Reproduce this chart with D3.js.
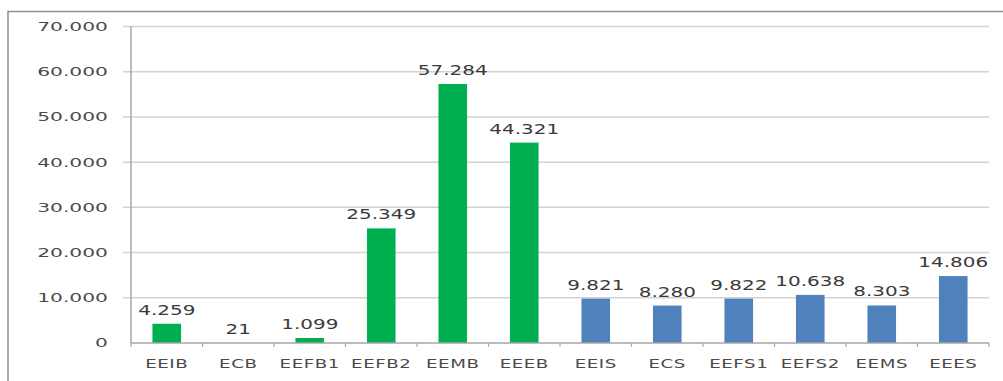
<!DOCTYPE html>
<html>
<head>
<meta charset="utf-8">
<script src="https://cdn.jsdelivr.net/npm/d3@7"></script>
<style>
  body { margin: 0; background: #fff; }
  text { font-family: "DejaVu Sans", Verdana, sans-serif; fill: #4a4a4a; }
</style>
</head>
<body>
<svg id="chart" width="1003" height="381"></svg>
<script>
var categories = ['EEIB', 'ECB', 'EEFB1', 'EEFB2', 'EEMB', 'EEEB',
                  'EEIS', 'ECS', 'EEFS1', 'EEFS2', 'EEMS', 'EEES']
var values = [4259, 21, 1099, 25349, 57284, 44321,
              9821, 8280, 9822, 10638, 8303, 14806]
var groups = ['B', 'B', 'B', 'B', 'B', 'B', 'S', 'S', 'S', 'S', 'S', 'S']
var yTicks = [0, 10000, 20000, 30000, 40000, 50000, 60000, 70000]
var colours = { B: '#00B050', S: '#4F81BD' }

var plotL = 131, plotR = 989, plotT = 26.5, plotB = 343

var fmt = d3.formatLocale({ decimal: ',', thousands: '.', grouping: [3], currency: ['', ''] }).format(',d')

var x = d3.scaleBand()
  .domain(categories)
  .range([plotL, plotR])
  .paddingInner(0.6)
  .paddingOuter(0.3)
var y = d3.scaleLinear()
  .domain([0, 70000])
  .range([plotB, plotT])

var svg = d3.select('#chart')

// outer frame, runs off the right and bottom of the picture
svg.append('rect')
  .attr('x', 8).attr('y', 11.5)
  .attr('width', 1100).attr('height', 500)
  .attr('fill', 'none')
  .attr('stroke', '#8f8f8f')
  .attr('stroke-width', 1.5)

// gridlines with little outward ticks
svg.append('g').selectAll('line')
  .data(yTicks.filter(d => d > 0))
  .join('line')
  .attr('x1', plotL - 8).attr('x2', plotR)
  .attr('y1', d => y(d)).attr('y2', d => y(d))
  .attr('stroke', '#d2d2d2')
  .attr('stroke-width', 1.5)

// the text in the picture is stretched wide and flat
function stretched(sx, sy) {
  return function (sel) {
    sel.attr('transform', function () {
      var t = d3.select(this)
      return 'translate(' + t.attr('data-x') + ',' + t.attr('data-y') + ') scale(' + sx + ',' + sy + ')'
    })
  }
}

// y tick labels
svg.append('g').selectAll('text')
  .data(yTicks)
  .join('text')
  .attr('data-x', plotL - 23)
  .attr('data-y', d => y(d))
  .attr('dy', '0.36em')
  .attr('text-anchor', 'end')
  .style('font-size', '15px')
  .text(d => fmt(d))
  .call(stretched(1.35, 0.82))

// bars
svg.append('g').selectAll('rect')
  .data(values)
  .join('rect')
  .attr('x', (d, i) => x(categories[i]))
  .attr('width', x.bandwidth())
  .attr('y', d => y(d))
  .attr('height', d => y(0) - y(d))
  .attr('fill', (d, i) => colours[groups[i]])

// data labels
svg.append('g').selectAll('text')
  .data(values)
  .join('text')
  .attr('data-x', (d, i) => x(categories[i]) + x.bandwidth() / 2)
  .attr('data-y', d => y(d) - 9)
  .attr('text-anchor', 'middle')
  .style('font-size', '14.8px')
  .style('fill', '#3a3a3a')
  .text(d => fmt(d))
  .call(stretched(1.35, 0.9))

// axes lines
svg.append('line')
  .attr('x1', plotL).attr('x2', plotL)
  .attr('y1', plotT).attr('y2', plotB)
  .attr('stroke', '#a6a6a6').attr('stroke-width', 1.5)
svg.append('line')
  .attr('x1', plotL).attr('x2', plotR)
  .attr('y1', plotB).attr('y2', plotB)
  .attr('stroke', '#a6a6a6').attr('stroke-width', 1.5)

// category boundary ticks
var bounds = categories.map(c => x(c) - x.step() * 0.3).concat([plotR])
svg.append('g').selectAll('line')
  .data(bounds)
  .join('line')
  .attr('x1', d => d).attr('x2', d => d)
  .attr('y1', plotB).attr('y2', plotB + 4)
  .attr('stroke', '#a6a6a6').attr('stroke-width', 1.2)

// category labels
svg.append('g').selectAll('text')
  .data(categories)
  .join('text')
  .attr('data-x', d => x(d) + x.bandwidth() / 2)
  .attr('data-y', 368.3)
  .attr('text-anchor', 'middle')
  .style('font-size', '13.5px')
  .style('letter-spacing', '0.4px')
  .text(d => d)
  .call(stretched(1.35, 0.85))
</script>
</body>
</html>
